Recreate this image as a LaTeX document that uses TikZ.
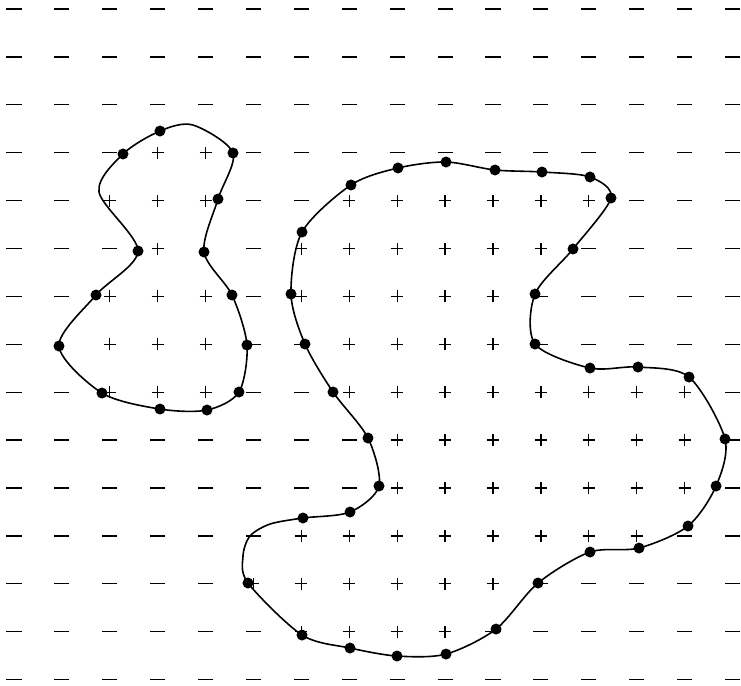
\documentclass[tikz,border=0pt]{standalone}
\usepackage{tikz}

\tikzset{
  blob/.style={line width=0.95pt, line join=round},
  pos/.pic={\draw[line width=0.75pt] (-0.125,0) -- (0.125,0) (0,-0.125) -- (0,0.125);},
  neg/.pic={\draw[line width=0.75pt] (-0.157,0) -- (0.157,0);},
}

\begin{document}
\begin{tikzpicture}
  \useasboundingbox (-0.292,0.188) rectangle (15.177,-14.113);

  % sign of each grid point: 0 = hidden, 1 = minus, 2 = plus
  \foreach \row [count=\j from 0] in {
    {1,1,1,1,1,1,1,1,1,1,1,1,1,1,1,1},
    {1,1,1,1,1,1,1,1,1,1,1,1,1,1,1,1},
    {1,1,1,1,1,1,1,1,1,1,1,1,1,1,1,1},
    {1,1,1,2,2,1,1,1,1,1,1,1,1,1,1,1},
    {1,1,2,2,2,1,1,2,2,2,2,2,2,1,1,1},
    {1,1,1,2,0,1,2,2,2,2,2,2,1,1,1,1},
    {1,1,2,2,2,1,2,2,2,2,2,1,1,1,1,1},
    {1,0,2,2,2,1,1,2,2,2,2,1,1,1,1,1},
    {1,1,2,2,2,1,1,2,2,2,2,2,2,2,2,1},
    {1,1,1,1,1,1,1,1,2,2,2,2,2,2,2,1},
    {1,1,1,1,1,1,1,1,2,2,2,2,2,2,2,1},
    {1,1,1,1,1,1,2,2,2,2,2,2,2,2,1,1},
    {1,1,1,1,1,2,2,2,2,2,2,1,1,1,1,1},
    {1,1,1,1,1,1,2,2,2,2,1,1,1,1,1,1},
    {1,1,1,1,1,1,1,1,1,1,1,1,1,1,1,1}}{
    \foreach \m [count=\i from 0] in \row {
      \ifcase\m \or \pic at (\i,-\j) {neg}; \or \pic at (\i,-\j) {pos}; \fi
    }
  }

  % left region
  \coordinate (l1) at (2.276,-3.027);
  \coordinate (l2) at (3.048,-2.547);
  \coordinate (ltop) at (3.737,-2.422);
  \coordinate (l3) at (4.572,-3.006);
  \coordinate (l4) at (4.259,-3.967);
  \coordinate (l5) at (3.967,-5.073);
  \coordinate (l6) at (4.551,-5.971);
  \coordinate (l7) at (4.864,-7.015);
  \coordinate (l8) at (4.697,-7.996);
  \coordinate (l9) at (4.029,-8.372);
  \coordinate (l10) at (3.048,-8.351);
  \coordinate (l11) at (1.837,-8.017);
  \coordinate (l12) at (0.939,-7.035);
  \coordinate (l13) at (1.712,-5.971);
  \coordinate (l14) at (2.589,-5.052);
  \coordinate (lbend) at (1.775,-3.820);

  % right region
  \coordinate (r1) at (6.013,-4.656);
  \coordinate (r2) at (7.035,-3.674);
  \coordinate (r3) at (8.017,-3.319);
  \coordinate (r4) at (9.019,-3.194);
  \coordinate (r5) at (10.042,-3.361);
  \coordinate (r6) at (11.023,-3.403);
  \coordinate (r7) at (12.025,-3.507);
  \coordinate (r8) at (12.463,-3.946);
  \coordinate (r9) at (11.670,-5.010);
  \coordinate (r10) at (10.877,-5.950);
  \coordinate (r11) at (10.877,-6.994);
  \coordinate (r12) at (12.025,-7.495);
  \coordinate (r13) at (13.027,-7.474);
  \coordinate (r14) at (14.092,-7.683);
  \coordinate (r15) at (14.843,-8.977);
  \coordinate (r16) at (14.656,-9.958);
  \coordinate (r17) at (14.071,-10.793);
  \coordinate (r18) at (13.048,-11.253);
  \coordinate (r19) at (12.025,-11.336);
  \coordinate (r20) at (10.939,-11.983);
  \coordinate (r21) at (10.063,-12.944);
  \coordinate (r22) at (9.019,-13.466);
  \coordinate (r23) at (7.996,-13.507);
  \coordinate (r24) at (7.015,-13.340);
  \coordinate (r25) at (6.013,-13.069);
  \coordinate (r26) at (4.885,-11.983);
  \coordinate (rarc1) at (4.781,-11.420);
  \coordinate (rarc2) at (4.927,-11.002);
  \coordinate (rarc3) at (5.345,-10.752);
  \coordinate (r27) at (6.033,-10.626);
  \coordinate (r28) at (7.015,-10.501);
  \coordinate (r29) at (7.620,-9.958);
  \coordinate (r30) at (7.390,-8.956);
  \coordinate (r31) at (6.660,-7.996);
  \coordinate (r32) at (6.075,-6.994);
  \coordinate (r33) at (5.783,-5.950);

  \draw[blob] plot[smooth cycle] coordinates {(l1) (l2) (ltop) (l3) (l4) (l5) (l6)
    (l7) (l8) (l9) (l10) (l11) (l12) (l13) (l14) (lbend)};
  \draw[blob] plot[smooth cycle] coordinates {(r1) (r2) (r3) (r4) (r5) (r6) (r7)
    (r8) (r9) (r10) (r11) (r12) (r13) (r14) (r15) (r16) (r17) (r18) (r19) (r20)
    (r21) (r22) (r23) (r24) (r25) (r26) (rarc1) (rarc2) (rarc3) (r27) (r28)
    (r29) (r30) (r31) (r32) (r33)};

  \foreach \p in {l1,l2,l3,l4,l5,l6,l7,l8,l9,l10,l11,l12,l13,l14}
    \fill (\p) circle[radius=0.115];
  \foreach \p in {r1,r2,r3,r4,r5,r6,r7,r8,r9,r10,r11,r12,r13,r14,r15,r16,r17,
                  r18,r19,r20,r21,r22,r23,r24,r25,r26,r27,r28,r29,r30,r31,r32,r33}
    \fill (\p) circle[radius=0.115];
\end{tikzpicture}
\end{document}
